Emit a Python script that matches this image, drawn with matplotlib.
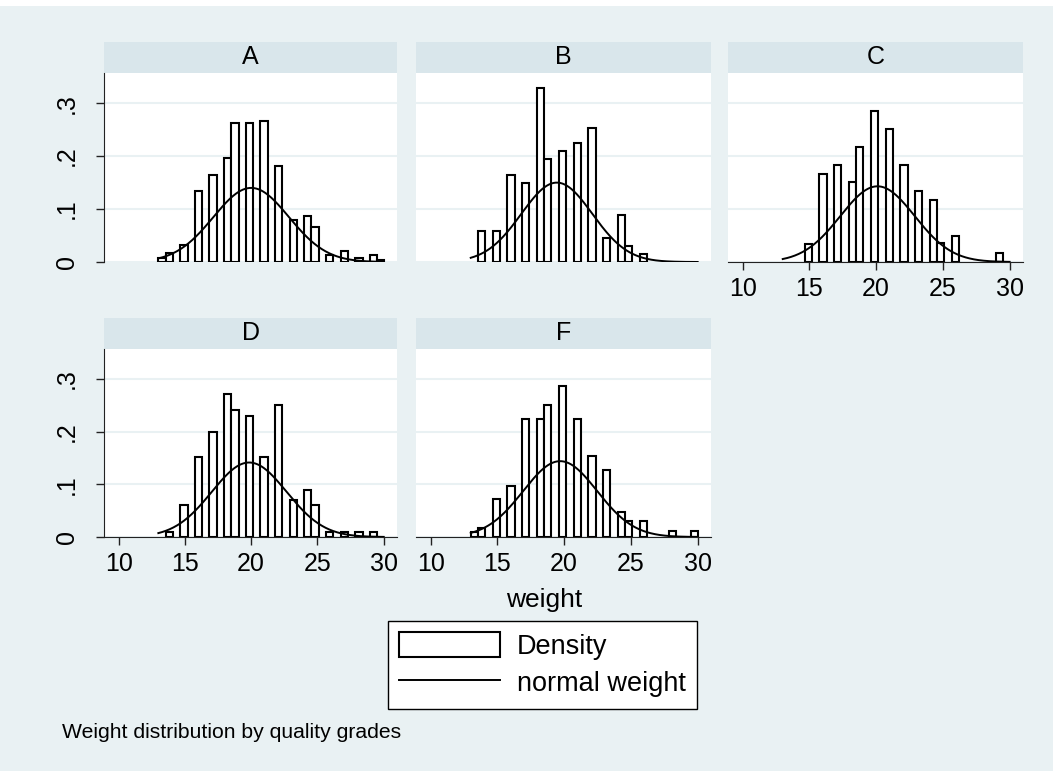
#!/usr/bin/env python3

import matplotlib.pyplot as plt
import numpy as np
from matplotlib.lines import Line2D
from matplotlib.patches import Rectangle

plt.rcParams['font.family'] = ['Liberation Sans', 'DejaVu Sans']

grades = ['A', 'B', 'C', 'D', 'F']

# histogram bins shared by all panels
bin_start = 13.0
bin_width = 0.55

density_a = [.0075, .017, 0, .033, 0, .135, 0, .165, 0, .197, .263, 0, .263, 0, .266, 0,
             .181, 0, .079, 0, .087, .067, 0, .014, 0, .020, 0, .0075, 0, .014, .0045]
density_b = [0, .059, 0, .059, 0, .165, 0, .150, 0, .329, .194, 0, .209, 0, .225, 0,
             .253, 0, .045, 0, .089, .030, 0, .0145, 0, 0, 0, 0, 0, 0, 0]
density_c = [0, 0, 0, .034, 0, .166, 0, .183, 0, .151, .218, 0, .286, 0, .251, 0,
             .183, 0, .135, 0, .118, .035, 0, .050, 0, 0, 0, 0, 0, .017, 0]
density_d = [0, .010, 0, .060, 0, .151, 0, .199, 0, .272, .242, 0, .230, 0, .151, 0,
             .250, 0, .070, 0, .090, .060, 0, .010, 0, .010, 0, .010, 0, .010, 0]
density_f = [.0088, .017, 0, .072, 0, .097, 0, .225, 0, .225, .250, 0, .287, 0, .225, 0,
             .153, 0, .127, 0, .048, .031, 0, .031, 0, 0, 0, .011, 0, 0, .011]
densities = [density_a, density_b, density_c, density_d, density_f]

# normal overlay parameters per grade
norm_mean = [20.0, 19.45, 20.1, 19.85, 19.7]
norm_sd = [2.85, 2.66, 2.79, 2.82, 2.77]
curve_range = (13.0, 30.0)

x_ticks = [10, 15, 20, 25, 30]
y_ticks = [0, .1, .2, .3]
y_tick_labels = ['0', '.1', '.2', '.3']

W, H = 1053, 771
BG = '#e9f1f3'
STRIP = '#d9e6eb'
GRID = '#e9f1f3'

fig = plt.figure(figsize=(W / 100, H / 100), dpi=100, facecolor='white')
fig.patches.append(Rectangle((0, 0), 1, 1 - 6 / H, transform=fig.transFigure,
                             facecolor=BG, edgecolor='none', zorder=-10))


def px_axes(x0, y0, x1, y1):
    return fig.add_axes([x0 / W, 1 - y1 / H, (x1 - x0) / W, (y1 - y0) / H])


cols = [(104, 397), (416, 711), (728, 1023)]
rows = [(73, 262), (349, 537)]
positions = [(0, 0), (0, 1), (0, 2), (1, 0), (1, 1)]
strip_h = 31

for k, grade in enumerate(grades):
    r, c = positions[k]
    x0, x1 = cols[c]
    y0, y1 = rows[r]
    ax = px_axes(x0, y0, x1, y1)
    ax.set_facecolor('white')

    heights = np.array(densities[k])
    lefts = bin_start + bin_width * np.arange(len(heights))
    keep = heights > 0
    ax.bar(lefts[keep], heights[keep], width=bin_width, align='edge',
           facecolor='white', edgecolor='black', linewidth=1.5, zorder=2)

    xs = np.linspace(*curve_range, 300)
    ys = np.exp(-0.5 * ((xs - norm_mean[k]) / norm_sd[k]) ** 2) / (norm_sd[k] * np.sqrt(2 * np.pi))
    ax.plot(xs, ys, color='black', linewidth=1.4, zorder=3)

    ax.set_xlim(8.9, 31.0)
    ax.set_ylim(0, 0.357)
    ax.set_xticks(x_ticks)
    ax.set_yticks(y_ticks)
    ax.set_yticklabels(y_tick_labels)
    ax.yaxis.grid(True, color=GRID, linewidth=1.5)
    ax.set_axisbelow(True)

    for s in ax.spines.values():
        s.set_visible(False)
        s.set_color('#222222')
    show_left = c == 0
    show_bottom = r == 1 or c == 2
    ax.spines['left'].set_visible(show_left)
    ax.spines['bottom'].set_visible(show_bottom)

    if show_left:
        ax.tick_params(axis='y', length=6, width=1, labelsize=18,
                       labelrotation=90, pad=12, color='#222222')
        for lab in ax.get_yticklabels():
            lab.set_verticalalignment('center')
    else:
        ax.tick_params(axis='y', left=False, labelleft=False)
    if show_bottom:
        ax.tick_params(axis='x', length=6, width=1, labelsize=18, pad=5,
                       color='#222222')
    else:
        ax.tick_params(axis='x', bottom=False, labelbottom=False)

    sh = strip_h / (y1 - y0)
    ax.add_patch(Rectangle((0, 1), 1, sh, transform=ax.transAxes, clip_on=False,
                           facecolor=STRIP, edgecolor='none'))
    ax.text(0.5, 1 + sh / 2, grade, transform=ax.transAxes, ha='center',
            va='center', fontsize=18)

fig.text(544 / W, 1 - 600 / H, 'weight', ha='center', va='center', fontsize=19)
fig.text(62 / W, 1 - 733 / H, 'Weight distribution by quality grades',
         ha='left', va='center', fontsize=15.2)

handles = [Rectangle((0, 0), 1, 1, facecolor='white', edgecolor='black', linewidth=1.5),
           Line2D([], [], color='black', linewidth=1.4)]
leg = fig.legend(handles, ['Density', 'normal weight'], loc='upper left',
                 bbox_to_anchor=(388 / W, 1 - 621 / H), fontsize=19.5,
                 frameon=True, fancybox=False, framealpha=1, edgecolor='black',
                 handlelength=3.7, handleheight=1.0, borderpad=0.42,
                 labelspacing=0.37, handletextpad=0.63, borderaxespad=0)
leg.get_frame().set_linewidth(1)

fig.savefig('out.png', dpi=100, facecolor=fig.get_facecolor())
